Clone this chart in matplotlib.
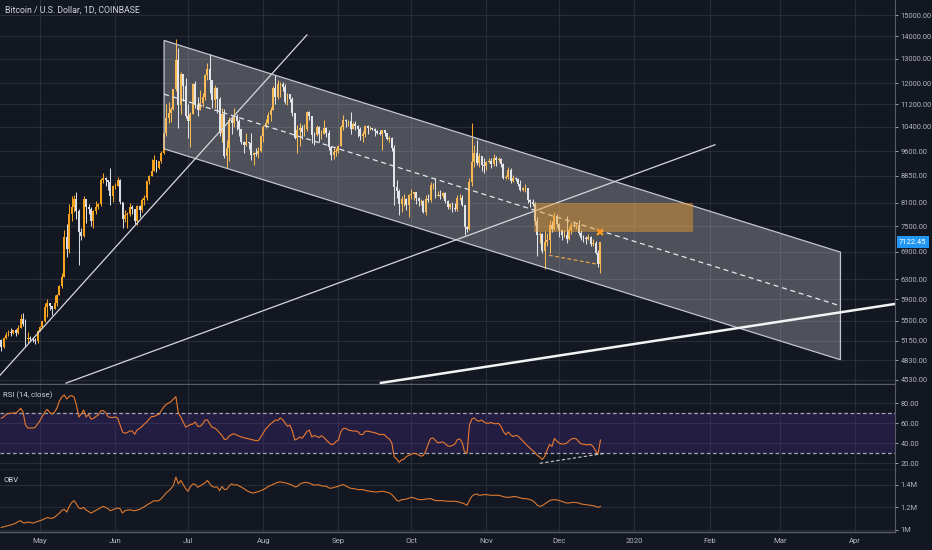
import numpy as np
import pandas as pd
import matplotlib
matplotlib.use("Agg")
import matplotlib.pyplot as plt
import matplotlib.dates as mdates
from matplotlib.patches import Polygon, Rectangle
from matplotlib.ticker import NullLocator
from matplotlib.transforms import blended_transform_factory

plt.rcParams['font.family'] = ['Roboto', 'DejaVu Sans']

# === データ（チャートから読み取った値）===
start_date = "2019-04-15"
first_open = 5160

closes = [
    5040, 5205, 5250, 5295, 5285, 5330, 5285, 5380, 5525, 5440,
    5180, 5200, 5180, 5160, 5150, 5325, 5390, 5490, 5760, 5830,
    5770, 5720, 5840, 5990, 6170, 6360, 7250, 6970, 7810, 7990,
    8190, 7880, 7360, 7270, 8190, 7990, 7950, 7630, 7880, 7990,
    8060, 8740, 8780, 8720, 8660, 8270, 8550, 8560, 8740, 8110,
    7680, 7790, 7800, 8000, 7930, 7630, 8010, 7920, 8170, 8230,
    8690, 8850, 8990, 9320, 9080, 9280, 9530, 10200, 10700, 10860,
    11020, 11760, 12930, 11160, 12380, 11880, 10770, 10590, 10830, 11980,
    11160, 10980, 11250, 11480, 12300, 12570, 12100, 11350, 11810, 11380,
    10200, 10850, 9440, 9680, 10640, 10540, 10760, 10600, 10330, 9890,
    9800, 9880, 9860, 9480, 9530, 9500, 9590, 10090, 10400, 10530,
    10820, 10980, 11800, 11460, 11980, 11980, 11860, 11290, 11560, 11390,
    10870, 10020, 10300, 10360, 10220, 10320, 10920, 10760, 10130, 10120,
    10400, 10140, 10140, 10370, 10170, 9720, 9490, 9580, 9600, 9760,
    10390, 10620, 10580, 10580, 10320, 10490, 10410, 10320, 10100, 10160,
    10410, 10360, 10360, 10310, 10260, 10190, 10160, 10270, 10170, 9980,
    10030, 9690, 8530, 8430, 8070, 8190, 8210, 8040, 8300, 8340,
    8390, 8240, 8150, 8150, 7870, 8210, 8180, 8590, 8590, 8270,
    8300, 8280, 8370, 8160, 8000, 8080, 7960, 7950, 8230, 8230,
    8030, 7470, 7430, 8660, 9250, 9550, 9220, 9430, 9180, 9150,
    9250, 9300, 9190, 9390, 9320, 9340, 9190, 8780, 8810, 9030,
    8710, 8800, 8760, 8620, 8460, 8490, 8500, 8170, 8120, 8080,
    7620, 7280, 7320, 6910, 7130, 7170, 7520, 7430, 7760, 7560,
    7400, 7300, 7300, 7200, 7400, 7540, 7510, 7520, 7340, 7220,
    7210, 7190, 7250, 7070, 7110, 6880, 6620, 7122.45,
]

highs = [
    5185, 5220, 5300, 5330, 5365, 5345, 5350, 5430, 5630, 5640,
    5525, 5300, 5240, 5220, 5190, 5340, 5400, 5500, 5840, 5900,
    5840, 5780, 5980, 6000, 6180, 6440, 7400, 7550, 8080, 8280,
    8300, 8380, 7930, 7460, 8270, 8190, 8080, 7990, 7900, 8150,
    8100, 8800, 8940, 8820, 8740, 9090, 8590, 8630, 8820, 8750,
    8130, 7900, 7870, 8100, 8030, 7950, 8050, 8030, 8240, 8320,
    8700, 8880, 9360, 9470, 9330, 9300, 9590, 10200, 11200, 11260,
    11080, 11780, 13880, 13450, 12440, 12380, 12200, 11210, 10900, 12000,
    12060, 11470, 11710, 11600, 12380, 12830, 13200, 12130, 11930, 11830,
    11460, 11050, 11020, 9970, 10740, 10720, 11070, 10840, 10660, 10330,
    9920, 10180, 9880, 10200, 9580, 9700, 9740, 10110, 10460, 10660,
    10900, 11090, 11890, 12320, 12130, 12050, 12030, 11960, 11600, 11590,
    11460, 10880, 10440, 10540, 10450, 10490, 10950, 10950, 10770, 10230,
    10440, 10410, 10290, 10620, 10380, 10290, 9730, 9700, 9680, 9800,
    10440, 10790, 10650, 10640, 10910, 10560, 10600, 10470, 10380, 10250,
    10450, 10440, 10420, 10370, 10360, 10270, 10270, 10280, 10280, 10180,
    10080, 10040, 9790, 8740, 8470, 8280, 8330, 8230, 8340, 8480,
    8400, 8400, 8250, 8190, 8170, 8320, 8340, 8670, 8640, 8800,
    8420, 8440, 8400, 8400, 8170, 8100, 8110, 8090, 8300, 8330,
    8300, 8040, 7500, 8800, 10540, 9800, 9940, 9550, 9440, 9380,
    9280, 9380, 9380, 9500, 9440, 9400, 9380, 9220, 8870, 9100,
    9070, 8880, 8830, 8780, 8740, 8530, 8620, 8500, 8190, 8210,
    8120, 7720, 7360, 7340, 7380, 7330, 7660, 7640, 7870, 7810,
    7570, 7420, 7420, 7760, 7480, 7600, 7630, 7580, 7650, 7400,
    7280, 7270, 7310, 7270, 7190, 7140, 6940, 7130,
]

lows = [
    4985, 5030, 5185, 5240, 5235, 5270, 5230, 5260, 5370, 5400,
    5050, 5120, 5150, 5130, 5100, 5120, 5320, 5380, 5480, 5570,
    5690, 5610, 5710, 5780, 5990, 6130, 6360, 6780, 6860, 7620,
    7870, 7670, 6600, 7180, 7250, 7590, 7800, 7500, 7460, 7820,
    7940, 8010, 8650, 8560, 8440, 8030, 8110, 8470, 8550, 8070,
    7450, 7600, 7450, 7760, 7800, 7550, 7530, 7720, 7850, 8040,
    8180, 8620, 8840, 8980, 8960, 9050, 9220, 9520, 10090, 10530,
    10560, 10990, 11690, 10340, 10840, 11320, 10710, 10010, 9730, 10830,
    11060, 10780, 10980, 11100, 11340, 12120, 11600, 11050, 11070, 10880,
    10100, 9900, 9380, 9070, 9300, 10140, 10390, 10280, 10100, 9820,
    9540, 9760, 9660, 9330, 9170, 9430, 9390, 9580, 9900, 10360,
    10500, 10580, 10980, 11220, 11390, 11460, 11700, 11200, 11170, 11280,
    10770, 9990, 9540, 9760, 9980, 10100, 10260, 10620, 9850, 9780,
    10080, 9900, 9990, 10140, 10060, 9640, 9330, 9360, 9440, 9530,
    9750, 10280, 10400, 10420, 10150, 10320, 10300, 10060, 9950, 9880,
    10060, 10160, 10300, 10270, 10090, 10140, 10120, 9620, 10070, 9940,
    9880, 9610, 8050, 8230, 7790, 7860, 8020, 7910, 7720, 8190,
    8180, 8080, 8020, 8050, 7830, 7790, 8120, 8110, 8480, 8240,
    8270, 8190, 8220, 8090, 7930, 7940, 7860, 7880, 7880, 8170,
    8020, 7300, 7350, 7410, 8560, 9120, 9160, 9100, 8980, 8940,
    9030, 9220, 9090, 9140, 9150, 9260, 9100, 8760, 8770, 8760,
    8640, 8680, 8710, 8570, 8410, 8430, 8390, 8090, 8000, 8020,
    7520, 6800, 7090, 6860, 6520, 7020, 6860, 7370, 7420, 7480,
    7250, 7180, 7250, 7090, 7170, 7320, 7490, 7430, 7290, 7170,
    7130, 7080, 7180, 7040, 7020, 6840, 6560, 6430,
]

rsi = [
    64.7, 66, 68.5, 69.5, 69.8, 70, 70, 72, 74.7, 71,
    58, 55, 55, 55, 55.5, 59, 62.5, 67, 71, 73.5,
    70.5, 69, 71, 75, 82, 86, 88, 84, 86.5, 87.5,
    86, 78, 66, 69, 73, 66, 68.5, 64, 64.5, 66.5,
    68, 72, 72.5, 70.5, 66.5, 65.5, 65.5, 66, 65, 58,
    51, 49.7, 50.5, 52, 52, 48.7, 53, 54.5, 56.5, 59,
    61, 64, 66.5, 66.5, 68, 68.5, 72.5, 76, 78.5, 80,
    81.5, 84, 86.3, 70, 66, 61, 56, 57, 58.5, 59,
    61, 56.7, 56.7, 59, 63, 63, 59, 55.5, 55, 53,
    50, 47.5, 43.5, 44, 47, 48.5, 49.3, 48, 47, 46,
    45.3, 44.8, 44.2, 43.5, 43, 42.3, 42.5, 46, 50, 54,
    56.5, 59, 61, 63, 62.5, 65, 63.5, 60, 56.7, 58,
    52, 43, 44, 46, 44.7, 48, 51.5, 53, 46, 47.5,
    46.5, 45.5, 47.3, 45.5, 43, 40.5, 38.5, 39, 41.5, 43,
    51.3, 54.7, 54.7, 53, 52.5, 52, 52, 51.5, 48.5, 48.5,
    51.5, 52, 51.3, 50.8, 50.3, 49.5, 48.3, 48.7, 48.2, 45.5,
    44, 40, 26, 24, 20.7, 23, 23.8, 26.5, 27.7, 28.5,
    29.7, 29.3, 28, 26.8, 27.5, 32, 39, 44.5, 45, 42.5,
    40.2, 40.7, 41, 39.5, 37, 36.7, 37.5, 39, 43.3, 44,
    40.5, 31, 29.7, 58, 64, 65, 62.5, 61.8, 63, 61,
    59.7, 59.8, 60.5, 59.5, 59.2, 59.7, 56.5, 51.3, 48.3, 51,
    48, 46.5, 47.5, 47, 44.5, 42, 39.5, 37, 34.7, 32.5,
    30.5, 27.5, 26, 23.5, 26.5, 33, 38.5, 36.5, 44.5, 42,
    39.8, 39, 39, 39.7, 42, 44, 44.6, 44.2, 41.5, 39.2,
    38.7, 38.2, 38.3, 38.5, 36.5, 32, 29, 43,
]

# OBV（単位: 百万）
obv_m = [
    1.018, 1.024, 1.030, 1.036, 1.042, 1.048, 1.057, 1.072, 1.078, 1.060,
    1.060, 1.066, 1.063, 1.057, 1.063, 1.072, 1.078, 1.087, 1.096, 1.107,
    1.101, 1.099, 1.110, 1.128, 1.146, 1.170, 1.179, 1.155, 1.203, 1.239,
    1.257, 1.227, 1.191, 1.185, 1.197, 1.173, 1.161, 1.146, 1.158, 1.170,
    1.182, 1.194, 1.206, 1.197, 1.185, 1.167, 1.176, 1.185, 1.191, 1.185,
    1.146, 1.167, 1.173, 1.176, 1.170, 1.167, 1.173, 1.179, 1.191, 1.203,
    1.218, 1.230, 1.242, 1.257, 1.254, 1.257, 1.275, 1.299, 1.325, 1.343,
    1.364, 1.394, 1.466, 1.406, 1.436, 1.400, 1.364, 1.340, 1.382, 1.406,
    1.400, 1.376, 1.388, 1.400, 1.415, 1.436, 1.406, 1.382, 1.376, 1.379,
    1.346, 1.382, 1.355, 1.358, 1.388, 1.406, 1.394, 1.400, 1.388, 1.376,
    1.364, 1.349, 1.337, 1.328, 1.325, 1.331, 1.337, 1.346, 1.355, 1.367,
    1.382, 1.391, 1.400, 1.412, 1.418, 1.424, 1.418, 1.415, 1.409, 1.403,
    1.394, 1.379, 1.382, 1.403, 1.412, 1.418, 1.418, 1.412, 1.403, 1.394,
    1.397, 1.397, 1.388, 1.385, 1.385, 1.370, 1.367, 1.373, 1.379, 1.385,
    1.394, 1.400, 1.388, 1.376, 1.367, 1.364, 1.361, 1.355, 1.355, 1.355,
    1.349, 1.343, 1.340, 1.337, 1.334, 1.334, 1.337, 1.340, 1.337, 1.331,
    1.325, 1.310, 1.287, 1.260, 1.251, 1.266, 1.266, 1.272, 1.278, 1.287,
    1.281, 1.275, 1.266, 1.266, 1.266, 1.272, 1.272, 1.275, 1.266, 1.257,
    1.257, 1.257, 1.257, 1.254, 1.251, 1.251, 1.251, 1.251, 1.248, 1.242,
    1.236, 1.227, 1.215, 1.260, 1.296, 1.310, 1.316, 1.304, 1.307, 1.310,
    1.310, 1.307, 1.304, 1.304, 1.304, 1.304, 1.299, 1.293, 1.287, 1.287,
    1.287, 1.293, 1.293, 1.287, 1.281, 1.275, 1.275, 1.272, 1.266, 1.257,
    1.239, 1.215, 1.206, 1.212, 1.227, 1.242, 1.257, 1.263, 1.266, 1.263,
    1.257, 1.251, 1.242, 1.236, 1.236, 1.239, 1.242, 1.239, 1.236, 1.227,
    1.224, 1.221, 1.218, 1.215, 1.212, 1.206, 1.197, 1.206,
]

# === 描画オブジェクト（日付, 価格）===
channel_dates = ["2019-06-21 03:00", "2020-03-25 22:00"]
channel_top = [13800, 6890]
channel_mid = [11570, 5775]
channel_bot = [9670, 4840]

trend_a_dates = ["2019-04-14 12:00", "2019-08-19"]
trend_a_prices = [4600, 14050]
trend_b_dates = ["2019-05-11 17:00", "2020-02-03 05:00"]
trend_b_prices = [4483, 9800]
trend_c_dates = ["2019-09-18", "2020-04-17 10:00"]
trend_c_prices = [4483, 5813]

zone_dates = ["2019-11-20 14:00", "2020-01-25 05:00"]
zone_prices = [7360, 8095]
mark_date = "2019-12-17 20:00"
mark_price = 7360
low_line_dates = ["2019-11-26 19:00", "2019-12-17"]
low_line_prices = [6820, 6620]

rsi_line_dates = ["2019-11-23", "2019-12-19 22:00"]
rsi_line_vals = [19.7, 29.7]

last_price = 7122.45
price_ticks = [4530, 4830, 5150, 5500, 5900, 6300, 6900, 7500, 8100, 8850,
               9600, 10400, 11200, 12000, 13000, 14000, 15000]
rsi_ticks = [20, 40, 60, 80]
obv_ticks = [1.0, 1.2, 1.4]
obv_labels = ["1M", "1.2M", "1.4M"]
month_dates = ["2019-05-01", "2019-06-01", "2019-07-01", "2019-08-01", "2019-09-01",
               "2019-10-01", "2019-11-01", "2019-12-01", "2020-01-01", "2020-02-01",
               "2020-03-01", "2020-04-01"]
month_labels = ["May", "Jun", "Jul", "Aug", "Sep", "Oct", "Nov", "Dec",
                "2020", "Feb", "Mar", "Apr"]

# === 色 ===
BG = "#131722"
GRID = "#282c37"
TXT = "#b2b5be"
UP = "#f5a31f"
DOWN = "#d8dbe2"
SEP = "#5a5d68"


def dn(s):
    return mdates.date2num(pd.to_datetime(s))


dates = pd.date_range(start_date, periods=len(closes), freq="D")
x = mdates.date2num(dates)
opens = [first_open] + closes[:-1]
o = np.array(opens, dtype=float)
c = np.array(closes, dtype=float)
colors = np.where(c >= o, UP, DOWN)

W, H = 932, 550
fig = plt.figure(figsize=(W / 100, H / 100), dpi=100, facecolor=BG)


def px_axes(x0, y0, x1, y1):
    a = fig.add_axes([x0 / W, 1 - y1 / H, (x1 - x0) / W, (y1 - y0) / H])
    a.set_facecolor(BG)
    for s in a.spines.values():
        s.set_visible(False)
    return a


ax = px_axes(0, 0, 895, 384)
ax_rsi = px_axes(0, 385, 895, 470)
ax_obv = px_axes(0, 470, 895, 532)

xmin = dn(start_date) - 0.5
xmax = dn(start_date) + 368.4
months = [dn(m) for m in month_dates]

for a in (ax, ax_rsi, ax_obv):
    a.set_xlim(xmin, xmax)
    a.set_xticks(months)
    a.grid(True, color=GRID, lw=0.8, zorder=0)
    a.set_axisbelow(True)
    a.yaxis.tick_right()
    a.tick_params(axis='y', labelsize=5.4, colors=TXT, length=2, width=0.6,
                  pad=2, direction='out')
    a.tick_params(axis='x', length=0, labelbottom=False)
    a.spines['right'].set_visible(True)
    a.spines['right'].set_color(SEP)
    a.spines['right'].set_linewidth(0.8)
    a.spines['bottom'].set_visible(True)
    a.spines['bottom'].set_color(SEP)
    a.spines['bottom'].set_linewidth(1.0)

# === ローソク足 ===
ax.set_yscale('log')
ax.vlines(x, lows, highs, colors=colors, lw=0.75, zorder=2)
ax.bar(x, np.abs(c - o), bottom=np.minimum(o, c), width=0.8, color=colors,
       linewidth=0, zorder=3)
ax.set_ylim(4470, 15757)
ax.yaxis.set_minor_locator(NullLocator())
ax.set_yticks(price_ticks)
ax.set_yticklabels([f"{v:.2f}" for v in price_ticks])

# チャネル
cx = [dn(d) for d in channel_dates]
ax.add_patch(Polygon([(cx[0], channel_top[0]), (cx[1], channel_top[1]),
                      (cx[1], channel_bot[1]), (cx[0], channel_bot[0])],
                     closed=True, facecolor=(1, 1, 1, 0.25),
                     edgecolor="#c3c5cc", lw=0.9, zorder=4))
ax.plot(cx, channel_mid, color="#e6e7ea", lw=0.9, ls=(0, (4, 3)), zorder=5)

# トレンドライン
ax.plot([dn(d) for d in trend_a_dates], trend_a_prices, color="#d6d8de", lw=0.9, zorder=5)
ax.plot([dn(d) for d in trend_b_dates], trend_b_prices, color="#d6d8de", lw=0.9, zorder=5)
ax.plot([dn(d) for d in trend_c_dates], trend_c_prices, color="#f2f3f5", lw=1.8,
        zorder=5, solid_capstyle='butt')

# オレンジのゾーン
zx = [dn(d) for d in zone_dates]
ax.add_patch(Rectangle((zx[0], zone_prices[0]), zx[1] - zx[0],
                       zone_prices[1] - zone_prices[0],
                       facecolor="#f2a02e", alpha=0.45, edgecolor='none', zorder=5))
ax.plot([dn(d) for d in low_line_dates], low_line_prices, color="#e9a24a",
        lw=0.9, ls=(0, (3, 2)), zorder=6)
ax.plot(dn(mark_date), mark_price, marker='x', color="#ff9a1f", ms=4.5, mew=1.6, zorder=7)

# 現在値ラベル
tr = blended_transform_factory(ax.transAxes, ax.transData)
ax.text(1.0 + 4 / 895, last_price, f"{last_price:.2f}", transform=tr, ha='left',
        va='center', fontsize=5.4, color='white', clip_on=False, zorder=10,
        bbox=dict(boxstyle='square,pad=0.3', fc='#2196f3', ec='none'))

fig.text(5 / W, 1 - 10 / H, "Bitcoin / U.S. Dollar, 1D, COINBASE", fontsize=6.3,
         color="#d1d4dc", va='center', ha='left')

# === RSI ===
ax_rsi.set_ylim(13, 98)
ax_rsi.axhspan(30, 70, color="#5e35b1", alpha=0.22, lw=0, zorder=1)
ax_rsi.axhline(70, color="#a3a5b3", lw=0.9, ls=(0, (3, 2)), zorder=2)
ax_rsi.axhline(30, color="#a3a5b3", lw=0.9, ls=(0, (3, 2)), zorder=2)
ax_rsi.plot(x, rsi, color="#e9792f", lw=0.8, zorder=3)
ax_rsi.plot([dn(d) for d in rsi_line_dates], rsi_line_vals, color="#c9cbd1",
            lw=0.8, ls=(0, (3, 2)), zorder=4)
ax_rsi.set_yticks(rsi_ticks)
ax_rsi.set_yticklabels([f"{v:.2f}" for v in rsi_ticks])
ax_rsi.text(3 / 895, (470 - 395) / 85, "RSI (14, close)", transform=ax_rsi.transAxes,
            fontsize=5.6, color="#d1d4dc", va='center', ha='left')

# === OBV ===
ax_obv.set_ylim(0.978, 1.529)
ax_obv.plot(x, obv_m, color="#dc7a30", lw=0.8, zorder=3)
ax_obv.set_yticks(obv_ticks)
ax_obv.set_yticklabels(obv_labels)
ax_obv.text(3 / 895, (532 - 480) / 62, "OBV", transform=ax_obv.transAxes,
            fontsize=5.6, color="#d1d4dc", va='center', ha='left')
ax_obv.set_xticklabels(month_labels)
ax_obv.tick_params(axis='x', labelbottom=True, labelsize=5.6, colors=TXT, pad=4)

fig.savefig("out.png", dpi=100, facecolor=BG)
